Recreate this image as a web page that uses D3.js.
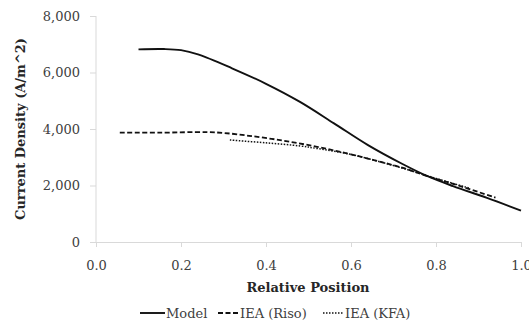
<!DOCTYPE html>
<html><head><meta charset="utf-8">
<script src="https://cdn.jsdelivr.net/npm/d3@7"></script>
<style>body{margin:0;background:#fff}svg{display:block}</style>
</head><body>
<script>
const modelX = [0.10,0.16,0.20,0.24,0.32,0.40,0.48,0.56,0.64,0.72,0.78,0.84,0.92,1.00];
const modelY = [6820,6830,6790,6640,6150,5600,4960,4200,3430,2770,2330,1980,1560,1110];
const risoX = [0.056,0.15,0.26,0.30,0.36,0.44,0.52,0.60,0.72,0.78,0.84,0.94];
const risoY = [3870,3870,3890,3860,3760,3590,3370,3100,2630,2330,2060,1570];
const kfaX = [0.315,0.40,0.48,0.52,0.60,0.72,0.80,0.88];
const kfaY = [3610,3510,3400,3310,3100,2620,2250,1900];
const xTicks = [0,0.2,0.4,0.6,0.8,1.0];
const yTicks = [0,2000,4000,6000,8000];
const seriesNames = ["Model","IEA (Riso)","IEA (KFA)"];

const W=529,H=323;
const svg=d3.select("body").append("svg").attr("width",W).attr("height",H);
const x=d3.scaleLinear().domain([0,1]).range([96,521]);
const y=d3.scaleLinear().domain([0,8000]).range([242,16]);
const font="'DejaVu Serif', serif";
const axisCol="#d9d9d9";
const fs=13;

const xa=svg.append("g").attr("transform","translate(0,242)")
  .call(d3.axisBottom(x).tickValues(xTicks).tickFormat(d3.format(".1f")).tickSizeOuter(0).tickSize(5));
const ya=svg.append("g").attr("transform","translate(96,0)")
  .call(d3.axisLeft(y).tickValues(yTicks).tickFormat(d3.format(",")).tickSizeOuter(0).tickSize(6).tickPadding(10));
[xa,ya].forEach(g=>{
  g.selectAll("path,line").attr("stroke",axisCol);
  g.selectAll("text").attr("font-family",font).attr("font-size",fs).attr("fill","#404040");
});
ya.select(".domain").attr("d","M0,242V16");
xa.selectAll("text").attr("dy","0.35em").attr("y",23);

svg.append("text").attr("x",308).attr("y",292).attr("text-anchor","middle")
  .attr("font-family",font).attr("font-weight","bold").attr("font-size",fs).attr("fill","#262626").text("Relative Position");
svg.append("text").attr("transform","translate(25,129) rotate(-90)").attr("text-anchor","middle")
  .attr("font-family",font).attr("font-weight","bold").attr("font-size",fs).attr("fill","#262626").text("Current Density (A/m^2)");

const line=d3.line().x(d=>x(d[0])).y(d=>y(d[1])).curve(d3.curveCatmullRom.alpha(0.5));
const series=[
  {name:seriesNames[0],xs:modelX,ys:modelY,dash:null,w:1.9},
  {name:seriesNames[1],xs:risoX,ys:risoY,dash:"5,2.5",w:1.8},
  {name:seriesNames[2],xs:kfaX,ys:kfaY,dash:"1.5,1.5",w:1.5}
];
series.forEach(s=>{
  svg.append("path").datum(s.xs.map((v,i)=>[v,s.ys[i]])).attr("d",line)
    .attr("fill","none").attr("stroke","#111").attr("stroke-width",s.w)
    .attr("stroke-dasharray",s.dash);
});

const legX=[140,218,323];
series.forEach((s,i)=>{
  const g=svg.append("g").attr("transform",`translate(${legX[i]},313)`);
  g.append("line").attr("x1",0).attr("x2",i==0?25:20).attr("y1",0).attr("y2",0)
    .attr("stroke","#111").attr("stroke-width",s.w).attr("stroke-dasharray",s.dash);
  g.append("text").attr("x",i==0?26:22).attr("y",0).attr("dy","0.35em")
    .attr("font-family",font).attr("font-size",fs).attr("fill","#404040").text(s.name);
});
</script>
</body></html>
